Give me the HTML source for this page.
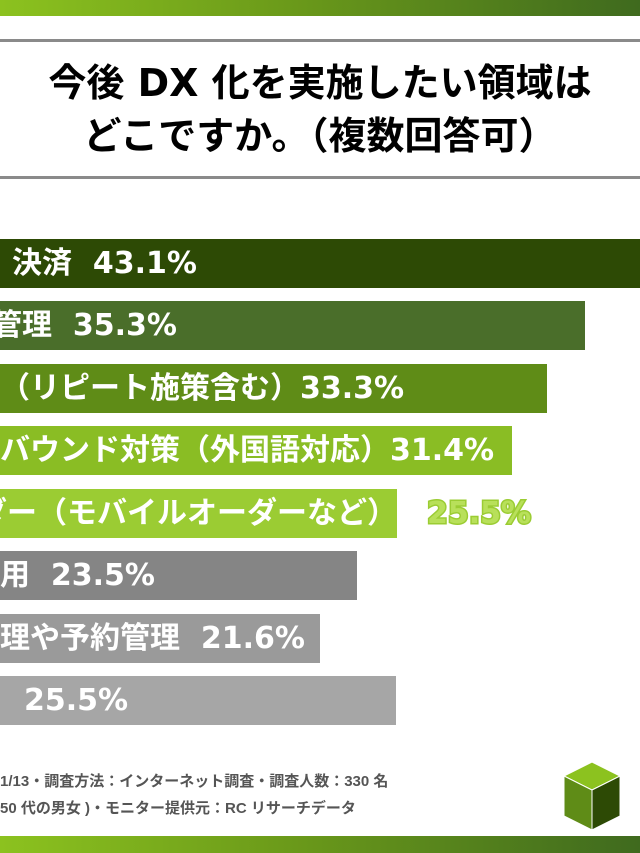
<!DOCTYPE html>
<html><head><meta charset="utf-8"><style>
*{margin:0;padding:0;box-sizing:border-box}
body{width:640px;height:853px;background:#fff;position:relative;overflow:hidden;font-family:"DejaVu Sans","Noto Sans CJK JP",sans-serif}
.grad{position:absolute;left:0;width:640px;background:linear-gradient(90deg,#8cc21f 0%,#6b9a1a 45%,#3f6a1e 100%)}
.line{position:absolute;left:0;width:640px;height:3px;background:#8a8a8a}
h1{position:absolute;top:57px;left:0;width:640px;text-align:center;font-size:38px;line-height:53px;font-weight:bold;color:#000;white-space:nowrap}
.bar{position:absolute;left:0;height:49px;color:#fff;font-weight:bold;font-size:30px;line-height:49px;white-space:nowrap;padding-left:10px}
.foot{position:absolute;left:0;font-size:15px;color:#555;font-weight:bold;white-space:nowrap;font-family:"Liberation Sans","Noto Sans CJK JP",sans-serif}
</style></head><body>
<div class="grad" style="top:0;height:16px"></div>
<div class="line" style="top:39px"></div>
<h1>今後 DX 化を実施したい領域は<br>どこですか。（複数回答可）</h1>
<div class="line" style="top:176px"></div>
<div class="bar" style="top:239px;width:640px;background:#2d4a05;padding-left:12px">決済&nbsp;&nbsp;43.1%</div>
<div class="bar" style="top:301px;width:585px;background:#4a6e2a;padding-left:0;text-indent:-8px">管理&nbsp;&nbsp;35.3%</div>
<div class="bar" style="top:364px;width:547px;background:#5f8c17;padding-left:0">（リピート施策含む）33.3%</div>
<div class="bar" style="top:426px;width:512px;background:#8abd24;padding-left:0">バウンド対策（外国語対応）31.4%</div>
<div class="bar" style="top:489px;width:397px;background:#9bcc33;padding-left:0;overflow:visible;text-indent:-23px">ダー（モバイルオーダーなど）<span style="color:#b8e05a;-webkit-text-stroke:3px #9bcc33;paint-order:stroke fill;margin-left:30px">25.5%</span></div>
<div class="bar" style="top:551px;width:357px;background:#858585;padding-left:0">用&nbsp;&nbsp;23.5%</div>
<div class="bar" style="top:614px;width:320px;background:#9a9a9a;padding-left:0">理や予約管理&nbsp;&nbsp;21.6%</div>
<div class="bar" style="top:676px;width:396px;background:#a6a6a6;padding-left:24px">25.5%</div>
<div class="foot" style="top:770px">1/13・調査方法：インターネット調査・調査人数：330 名</div>
<div class="foot" style="top:797px">50 代の男女 )・モニター提供元：RC リサーチデータ</div>
<svg style="position:absolute;left:562px;top:760px" width="60" height="72" viewBox="0 0 60 72">
<polygon points="30,2 58,16 30,30 2,16" fill="#8cc21f" stroke="#fff" stroke-width="1"/>
<polygon points="2,16 30,30 30,70 2,56" fill="#5f8c17" stroke="#fff" stroke-width="1"/>
<polygon points="30,30 58,16 58,56 30,70" fill="#2d4a05" stroke="#fff" stroke-width="1"/>
</svg>
<div class="grad" style="top:836px;height:17px"></div>
</body></html>
